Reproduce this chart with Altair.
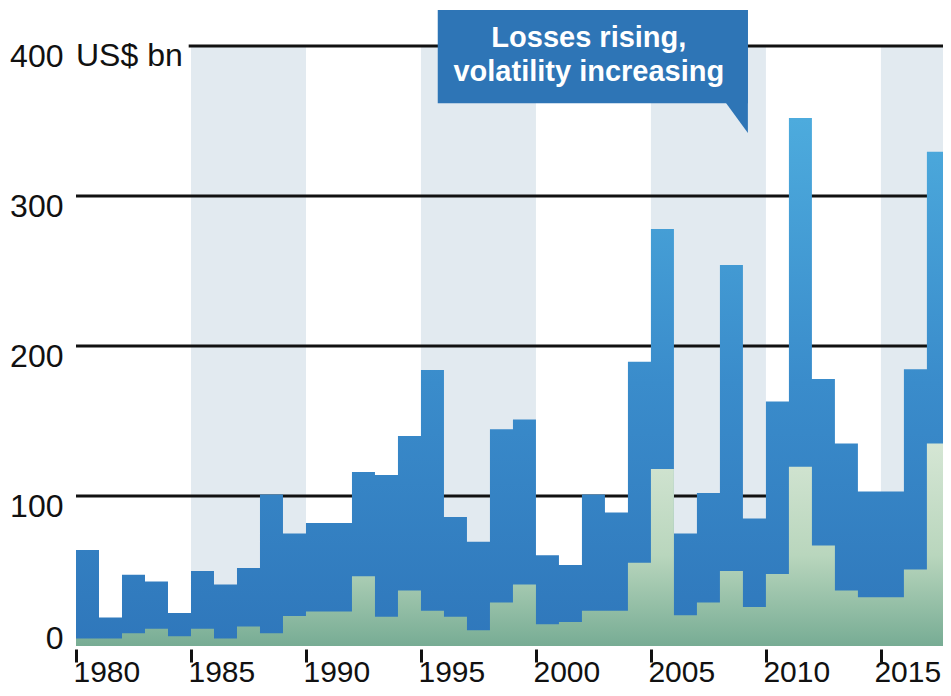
import altair as alt
import pandas as pd

# ---------------- data ----------------
years = list(range(1980, 2018))
total_losses = [64, 19, 47.5, 43, 22, 50, 41, 52, 101, 75,
                82, 82, 116, 114, 140, 184, 86, 69.5, 144.5, 151,
                60.5, 54, 101, 89, 189.5, 278, 75, 102, 254, 85,
                163, 352, 178, 135, 103, 103, 184.5, 329.5]
insured_losses = [5, 5, 8.5, 11.5, 6.5, 11.5, 5, 13, 8.5, 20,
                  23, 23, 46.5, 19.5, 37, 23.5, 19.5, 10.5, 29, 41,
                  14.5, 16, 23.5, 23.5, 55.5, 118, 20.5, 29, 50, 26,
                  48, 119.5, 67, 37, 32.5, 32.5, 51, 135]

band_start = [1985, 1995, 2005, 2015]
band_end = [1990, 2000, 2010, 2020]

grid_values = [100, 200, 300, 400]
grid_start = [1980, 1980, 1980, 1984.9]

x_ticks = [1980, 1985, 1990, 1995, 2000, 2005, 2010, 2015]
y_ticks = [0, 100, 200, 300, 400]

unit_label = "US$ bn"
callout_text = "Losses rising,\nvolatility increasing"

# ---------------- tables ----------------
main = pd.DataFrame({
    "year": years + [years[-1] + 1],
    "total": total_losses + [total_losses[-1]],
    "insured": insured_losses + [insured_losses[-1]],
})
bands = pd.DataFrame({"start": band_start, "end": band_end})
grid = pd.DataFrame({"start": grid_start, "value": grid_values})
callout = pd.DataFrame({"label": [callout_text]})
unit = pd.DataFrame({"label": [unit_label]})

FONT = "Liberation Sans"
INK = "#111111"
BOX = "#2e75b6"

xscale = alt.Scale(domain=[1980, 2017.7], nice=False, zero=False)
yscale = alt.Scale(domain=[0, 424], nice=False)

xaxis = alt.Axis(values=x_ticks, format="d", labelAlign="left",
                 labelOffset={"condition": {"test": "datum.value == 2015", "value": -7}, "value": -3},
                 labelFontSize=30, labelFont=FONT, labelColor=INK,
                 tickSize=13, tickWidth=3, tickColor=INK, domain=False, grid=False,
                 offset=3, labelPadding=19, labelBaseline="alphabetic",
                 labelFlush=False, labelOverlap=False, labelBound=False, title=None)
yaxis = alt.Axis(values=y_ticks, labelFontSize=32, labelFont=FONT, labelColor=INK,
                 labelAlign="right", labelBaseline="alphabetic", labelPadding=13,
                 labelOffset={"condition": {"test": "datum.value == 0", "value": 2}, "value": 20},
                 ticks=False, domain=False, grid=False, title=None)

band_layer = alt.Chart(bands).mark_rect(color="#e2eaf0", clip=True).encode(
    x=alt.X("start:Q", scale=xscale, axis=xaxis, title=None),
    x2="end:Q",
    y=alt.Y(datum=400, type="quantitative", scale=yscale, axis=yaxis, title=None),
    y2=alt.datum(0),
)

grid_layer = alt.Chart(grid).mark_rule(color=INK, strokeWidth=3, clip=True).encode(
    x=alt.X("start:Q", title=None),
    x2=alt.datum(2017.7),
    y=alt.Y("value:Q", title=None),
)

blue_grad = alt.Gradient(gradient="linear", x1=0, x2=0, y1=0, y2=1,
                         stops=[alt.GradientStop(color="#4dabdd", offset=0),
                                alt.GradientStop(color="#3a8ccb", offset=0.5),
                                alt.GradientStop(color="#2f77bb", offset=1)])
green_grad = alt.Gradient(gradient="linear", x1=0, x2=0, y1=0, y2=1,
                          stops=[alt.GradientStop(color="#d5e6d4", offset=0),
                                 alt.GradientStop(color="#b9d6bd", offset=0.55),
                                 alt.GradientStop(color="#77ac94", offset=1)])

total_layer = alt.Chart(main).mark_area(interpolate="step-after", color=blue_grad, clip=True).encode(
    x=alt.X("year:Q", title=None),
    y=alt.Y("total:Q", title=None),
)
insured_layer = alt.Chart(main).mark_area(interpolate="step-after", color=green_grad, clip=True).encode(
    x=alt.X("year:Q", title=None),
    y=alt.Y("insured:Q", title=None),
)

box_layer = alt.Chart(callout).mark_rect(color=BOX).encode(
    x=alt.datum(1995.73), x2=alt.datum(2009.22),
    y=alt.datum(424), y2=alt.datum(361.8),
)
tail_layer = alt.Chart(callout).mark_point(
    shape="M -0.73 -1 L 0.73 -1 L 0.73 1 Z", filled=True, size=900,
    color=BOX, opacity=1, strokeWidth=0,
).encode(x=alt.datum(2008.74), y=alt.datum(352))

text_layer = alt.Chart(callout).mark_text(
    color="white", font=FONT, fontSize=29, fontWeight="bold", align="center",
    baseline="alphabetic", lineBreak="\n", lineHeight=34,
).encode(x=alt.datum(2002.3), y=alt.datum(399.3), text="label:N")

unit_layer = alt.Chart(unit).mark_text(
    color=INK, font=FONT, fontSize=32, align="left", baseline="alphabetic", dy=20,
).encode(x=alt.value(0), y=alt.datum(400), text="label:N")

chart = alt.layer(
    band_layer, grid_layer, total_layer, insured_layer,
    box_layer, tail_layer, text_layer, unit_layer,
).properties(
    width=867, height=636,
    autosize=alt.AutoSizeParams(type="none"),
    padding={"left": 68, "top": 2, "right": 0, "bottom": 42},
    background="white",
).configure_view(stroke=None)

chart.save("out.html", embed_options={"renderer": "svg", "actions": False})
